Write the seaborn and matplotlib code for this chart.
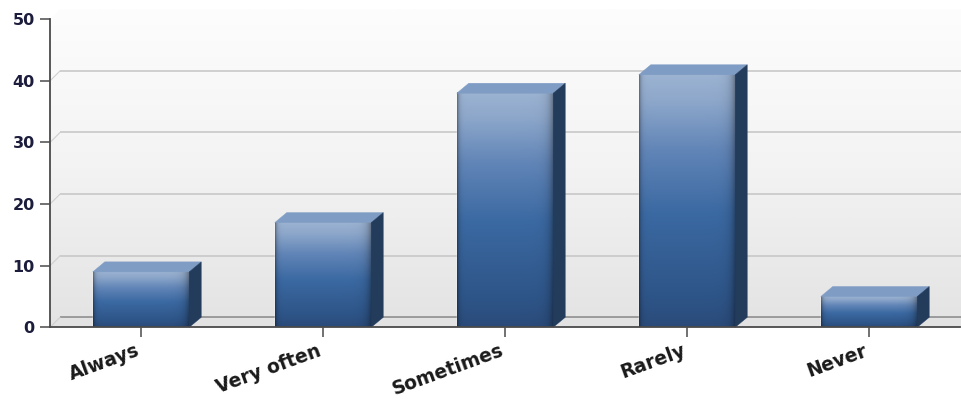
import numpy as np
import pandas as pd
import matplotlib
matplotlib.use("Agg")
import matplotlib.pyplot as plt
import matplotlib.transforms as mtransforms
import seaborn as sns
from matplotlib.colors import LinearSegmentedColormap
from matplotlib.patches import Polygon

# Survey answers and how many respondents gave each one
categories = ["Always", "Very often", "Sometimes", "Rarely", "Never"]
counts = [9, 17, 38, 41, 5]
y_ticks = [0, 10, 20, 30, 40, 50]

FIG_W, FIG_H, DPI = 962, 403, 100
WALL_DEPTH = (10, 10)   # pixel offset of the back wall from the front plane
BAR_DEPTH = (12, 10)    # pixel offset of a bar's back face

sns.set_theme(style="ticks")
plt.rcParams["font.family"] = ["DejaVu Sans"]

fig = plt.figure(figsize=(FIG_W / DPI, FIG_H / DPI), dpi=DPI)
ax = fig.add_axes([50 / FIG_W, 75.7 / FIG_H, 910 / FIG_W, 308 / FIG_H])

df = pd.DataFrame({"answer": categories, "count": counts})
sns.barplot(data=df, x="answer", y="count", color="#3d6aa0", width=0.53,
            saturation=1, ax=ax, zorder=5)
bars = list(ax.patches)

ax.set_xlim(-0.5, len(categories) - 0.5)
ax.set_ylim(y_ticks[0], y_ticks[-1])
ax.set_yticks(y_ticks)
ax.patch.set_visible(False)


def shifted(x, y, off):
    """Data point moved by a pixel offset, returned in data coordinates."""
    px, py = ax.transData.transform((x, y))
    return tuple(ax.transData.inverted().transform((px + off[0], py + off[1])))


x0, x1 = ax.get_xlim()
y0, y1 = ax.get_ylim()
x_far = x1 + 0.3

# Back wall and left wall with a soft vertical gradient
wall_tl = shifted(x0, y1, WALL_DEPTH)
wall_bl = shifted(x0, y0, WALL_DEPTH)
wall_poly = Polygon([(x0, y0), (x0, y1), wall_tl, (x_far, wall_tl[1]), (x_far, y0)],
                    closed=True, transform=ax.transData)
wall_cmap = LinearSegmentedColormap.from_list("wall", ["#e3e3e3", "#f3f3f3", "#fdfdfd"])
grad = np.linspace(0, 1, 256).reshape(-1, 1)
wall_img = ax.imshow(grad, cmap=wall_cmap, origin="lower", aspect="auto",
                     extent=[x0, x_far, y0, wall_tl[1]], zorder=0.5,
                     interpolation="bilinear")
wall_img.set_clip_box(fig.bbox)
wall_img.set_clip_path(wall_poly)

# Floor strip
ax.add_patch(Polygon([(x0, y0), wall_bl, (x_far, wall_bl[1]), (x_far, y0)], closed=True,
                     facecolor="#e2e2e2", edgecolor="none", zorder=0.8, clip_on=False))

# Grid lines on the back wall plus the short diagonals on the left wall
for t in y_ticks[:-1]:
    back = shifted(x0, t, WALL_DEPTH)
    color = "#8f8f8f" if t == y0 else "#c8c8c8"
    ax.plot([back[0], x_far], [back[1], back[1]], color=color, lw=1.2, zorder=1,
            clip_on=False, solid_capstyle="butt")
    ax.plot([x0, back[0]], [t, back[1]], color="#cfcfcf", lw=0.8, zorder=1, clip_on=False)

# 3D bars: gradient front face, lit top face, dark side face
front_cmap = LinearSegmentedColormap.from_list(
    "front", [(0.0, "#2a4b7a"), (0.12, "#2e5588"), (0.45, "#3b69a2"),
              (0.7, "#6185b7"), (0.9, "#8ea8cb"), (1.0, "#9cb3d2")])
ny, nx = 200, 96
tv = np.repeat(np.linspace(0, 1, ny)[:, None], nx, axis=1)
sh = np.linspace(0, 1, nx)[None, :]
shade = 1 - 0.35 * np.exp(-sh / 0.02) - 0.4 * np.exp(-(1 - sh) / 0.045)
front_rgb = np.clip(front_cmap(tv)[..., :3] * shade[..., None], 0, 1)

for bar in bars:
    bx, by = bar.get_x(), bar.get_y()
    bw, bh = bar.get_width(), bar.get_height()
    ax.imshow(front_rgb, origin="lower", aspect="auto", extent=[bx, bx + bw, by, by + bh],
              zorder=6, interpolation="bilinear")
    fl, fr = (bx, by + bh), (bx + bw, by + bh)
    bl, br = shifted(*fl, BAR_DEPTH), shifted(*fr, BAR_DEPTH)
    brb = shifted(bx + bw, by, BAR_DEPTH)
    ax.add_patch(Polygon([fl, fr, br, bl], closed=True, facecolor="#7f9cc4",
                         edgecolor="#7f9cc4", lw=0.3, zorder=6.5, clip_on=False))
    ax.add_patch(Polygon([(bx + bw, by), fr, br, brb], closed=True, facecolor="#243c5c",
                         edgecolor="#243c5c", lw=0.3, zorder=6.5, clip_on=False))

ax.set_xlim(x0, x1)
ax.set_ylim(y0, y1)

# Axes, ticks and labels
sns.despine(ax=ax)
for side in ("left", "bottom"):
    ax.spines[side].set_color("#4a4a4a")
    ax.spines[side].set_linewidth(1.3)
    ax.spines[side].set_zorder(7)
ax.set_xlabel("")
ax.set_ylabel("")
ax.tick_params(axis="y", length=7, width=1.1, color="#4a4a4a", pad=4,
               labelsize=11.5, labelcolor="#1c1c3c")
ax.tick_params(axis="x", length=7, width=1.1, color="#4a4a4a", pad=3,
               labelsize=13.5, labelcolor="#1a1a1a")
for lab in ax.get_yticklabels():
    lab.set_fontweight("bold")
nudge = mtransforms.ScaledTranslation(-4 / 72, 0, fig.dpi_scale_trans)
for lab in ax.get_xticklabels():
    lab.set_fontweight("bold")
    lab.set_rotation(20)
    lab.set_ha("right")
    lab.set_rotation_mode("anchor")
    lab.set_transform(lab.get_transform() + nudge)

fig.savefig("out.png", dpi=DPI)
